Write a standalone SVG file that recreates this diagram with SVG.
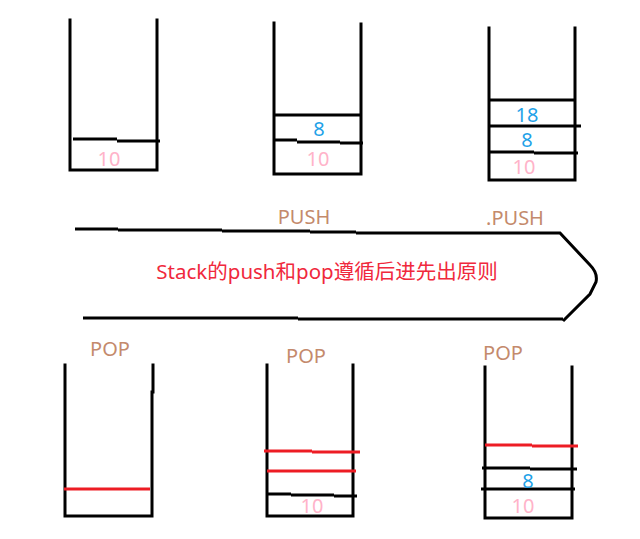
<svg xmlns="http://www.w3.org/2000/svg" width="640" height="539" viewBox="0 0 640 539">
<style>
.w{fill:none;stroke:#000;stroke-width:3;stroke-linecap:square}
.r{fill:none;stroke:#ed1c24;stroke-width:3}
.k{fill:none;stroke:#000;stroke-width:3}
text{font-family:"Microsoft YaHei","Noto Sans","Noto Sans CJK SC",sans-serif;text-anchor:middle}
.pk{fill:#ffb3c9;font-size:20px}
.bl{fill:#1fa2e8;font-size:20px}
.br{fill:#c48a6c;font-size:20px}
.rt{fill:#f0283c;font-size:20.5px}
</style>
<rect width="640" height="539" fill="#fff"/>
<g id="stack1">
<path class="w" d="M70 20V170H157V20"/>
<path class="k" d="M73 139H117M117 141H160"/>
<text class="pk" x="109" y="166">10</text>
</g>
<g id="stack2">
<path class="w" d="M274 23V174H361V24"/>
<path class="k" d="M274 115H361M274 140H297M297 142H340M340 143H363"/>
<text class="bl" x="319" y="136">8</text>
<text class="pk" x="318" y="166">10</text>
</g>
<g id="stack3">
<path class="w" d="M489 28V180H575V28"/>
<path class="k" d="M489 100H575M489 126H581M489 152H534M534 153H578"/>
<text class="bl" x="527" y="122">18</text>
<text class="bl" x="527" y="147">8</text>
<text class="pk" x="524" y="174">10</text>
</g>
<g id="label-push1"><text class="br" x="304" y="224">PUSH</text></g>
<g id="label-push2"><text class="br" x="515" y="225">.PUSH</text></g>
<g id="arrow">
<path class="k" d="M75 229H118M118 230H222M222 231H310M310 232H356M356 233H560L590 265Q598 273 596 282L590 294L563 321"/>
<path class="k" d="M83 318H298M298 319H563"/>
<text class="rt" x="327" y="279">Stack的push和pop遵循后进先出原则</text>
</g>
<g id="stack4">
<text class="br" x="110" y="356">POP</text>
<path class="w" d="M65 365V516H152V392M153 392V365"/>
<path class="r" d="M64 489H150"/>
</g>
<g id="stack5">
<text class="br" x="306" y="363">POP</text>
<path class="w" d="M267 365V516H353V365"/>
<path class="r" d="M264 451H312M312 452H360M267 471H356"/>
<path class="k" d="M267 494H291M291 495H334M334 496H357"/>
<text class="pk" x="312" y="513">10</text>
</g>
<g id="stack6">
<text class="br" x="503" y="360">POP</text>
<path class="w" d="M485 367V518H572V367"/>
<path class="r" d="M485 445H532M532 446H578"/>
<path class="k" d="M482 468H530M530 469H577M481 489H575"/>
<text class="bl" x="528" y="488">8</text>
<text class="pk" x="523" y="513">10</text>
</g>
</svg>
